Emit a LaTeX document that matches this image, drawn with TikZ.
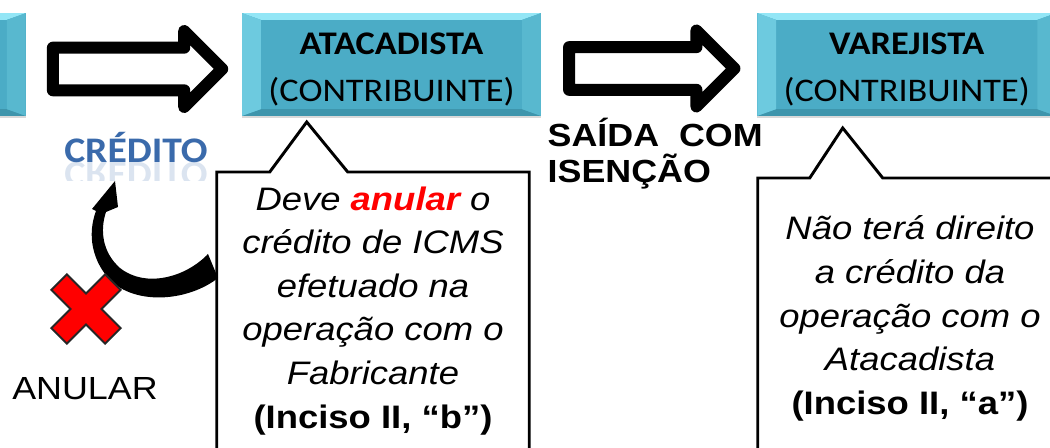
\documentclass[tikz,border=0pt]{standalone}
\usepackage{fontspec}
\newfontfamily\arial[FakeStretch=1.12]{Liberation Sans}
\newfontfamily\carlito[FakeStretch=1.1]{Carlito}
\usepackage{tikz}
\usetikzlibrary{positioning}
\usetikzlibrary{calc,shapes.arrows,shadows}
\definecolor{boxbody}{HTML}{4BACC6}
\definecolor{boxtop}{HTML}{93E6F6}
\definecolor{boxleft}{HTML}{6DCADF}
\definecolor{boxright}{HTML}{58B8CF}
\definecolor{boxbot}{HTML}{3E95AC}
\definecolor{credblue}{HTML}{3A6AAB}

\begin{document}
\begin{tikzpicture}
[x=0.75pt, y=-0.75pt,
 ent/.style={rectangle, fill=boxbody, inner sep=0pt, minimum width=224pt, minimum height=77pt, align=center, font=\carlito\fontsize{24.75}{35.25}\selectfont,
   drop shadow={shadow xshift=0pt, shadow yshift=-2pt, opacity=0.3},
   path picture={
     \fill[boxtop] (path picture bounding box.north west) -- (path picture bounding box.north east) -- ([shift={(-14pt,-5pt)}]path picture bounding box.north east) -- ([shift={(14pt,-5pt)}]path picture bounding box.north west) -- cycle;
     \fill[boxbot] (path picture bounding box.south west) -- (path picture bounding box.south east) -- ([shift={(-14pt,5pt)}]path picture bounding box.south east) -- ([shift={(14pt,5pt)}]path picture bounding box.south west) -- cycle;
     \fill[boxleft] (path picture bounding box.north west) -- ([shift={(14pt,-5pt)}]path picture bounding box.north west) -- ([shift={(14pt,5pt)}]path picture bounding box.south west) -- (path picture bounding box.south west) -- cycle;
     \fill[boxright] (path picture bounding box.north east) -- ([shift={(-14pt,-5pt)}]path picture bounding box.north east) -- ([shift={(-14pt,5pt)}]path picture bounding box.south east) -- (path picture bounding box.south east) -- cycle;
   }},
 flow/.style={single arrow, anchor=tail, draw=black, fill=white, line width=9pt, line join=round, inner xsep=0pt, inner ysep=11.5pt, single arrow head extend=12.5pt, minimum width=48pt, minimum height=127pt},
 note/.style={rectangle, anchor=north, align=center, inner xsep=0pt, font=\arial\itshape\fontsize{24.4}{32.7}\selectfont},
 noteline/.style={draw=black, line width=2.2pt, line join=miter},
 ]
\useasboundingbox (0,0) rectangle (1050,448);
\clip (0,0) rectangle (1050,448);
% boxes of the chain
\node[ent] (atac) at (391.5,64.5) {\rule{0pt}{24pt}\textbf{ATACADISTA}\\(CONTRIBUINTE)};
\node[ent, right=162pt of atac] (var) {\rule{0pt}{24pt}\textbf{VAREJISTA}\\(CONTRIBUINTE)};
\node[ent, left=162pt of atac] (fab) {};
\node[flow] (seta1) at ($(fab.east)+(21,4.5)$) {};
\node[flow, minimum height=124pt] (seta2) at ($(atac.east)+(22,4)$) {};
\node[anchor=base west, align=left, font=\arial\bfseries\fontsize{24}{27}\selectfont] (saida) at (543,183) {SAÍDA\ \ COM\\ISENÇÃO};
% callouts
\node[note, minimum width=234pt, inner ysep=10.7pt] (cA) at (373,172) {Deve {\color{red}\bfseries anular} o\\crédito de ICMS\\efetuado na\\operação com o\\Fabricante\\{\upshape\bfseries(Inciso II, “b”)}};
\node[note, minimum width=228pt, inner ysep=28.3pt] (cB) at (910,178) {Não terá direito\\a crédito da\\operação com o\\Atacadista\\{\upshape\bfseries(Inciso II, “a”)}};
\draw[noteline] ([yshift=-30pt]cA.south west) -- (cA.north west) -- ($(cA.north west)+(53,0)$) -- ($(cA.north west)+(90,-50)$) -- ($(cA.north west)+(131,0)$) -- (cA.north east) -- ([yshift=-30pt]cA.south east);
\draw[noteline] ([yshift=-30pt]cB.south west) -- (cB.north west) -- ($(cB.north west)+(52,0)$) -- ($(cB.north west)+(85,-50)$) -- ($(cB.north west)+(125,0)$) -- (cB.north east) -- ([yshift=-30pt]cB.south east);
% credit and its cancellation
\node[anchor=base, font=\carlito\bfseries\fontsize{27}{30}\selectfont, text=credblue] (cred) at (136,163) {CRÉDITO};
\begin{scope}
\clip (40,163) rectangle (230,181);
\node[anchor=base, yscale=-1, transform shape, font=\carlito\bfseries\fontsize{27}{30}\selectfont, text=credblue, opacity=0.18] (credr) at (136,163) {CRÉDITO};
\end{scope}
\fill (208,254) .. controls (185,278) and (145,288) .. (120,268) .. controls (102,252) and (100,230) .. (106,212) -- (118,207) -- (115,181) -- (92,209) -- (96,211) .. controls (87,235) and (92,262) .. (112,282) .. controls (140,306) and (190,300) .. (218,278) -- cycle;
\begin{scope}[shift={(86,309)}, rotate=45]
\filldraw[fill=red, draw=black!85, line width=1.5pt] (11,38) -- (11,11) -- (38,11) -- (38,-11) -- (11,-11) -- (11,-38) -- (-11,-38) -- (-11,-11) -- (-38,-11) -- (-38,11) -- (-11,11) -- (-11,38) -- cycle;
\end{scope}
\node[anchor=base, font=\arial\fontsize{24}{27}\selectfont] (anular) at (85,400) {ANULAR};
\end{tikzpicture}
\end{document}
